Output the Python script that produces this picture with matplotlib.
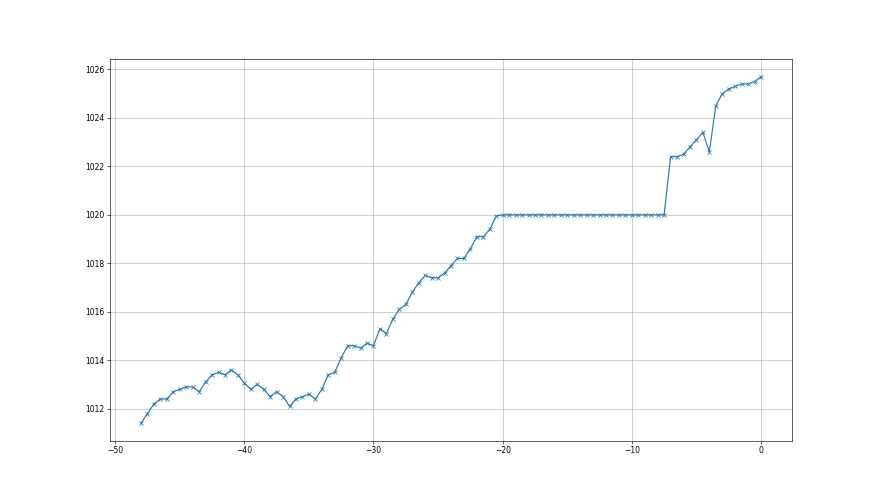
import numpy as np
import matplotlib
matplotlib.use("Agg")
import matplotlib.pyplot as plt

hours = np.arange(-48, 0.01, 0.5)

pressure_early = [1011.4, 1011.8, 1012.2, 1012.4, 1012.4, 1012.7, 1012.8, 1012.9, 1012.9, 1012.7,
                  1013.1, 1013.4, 1013.5, 1013.4, 1013.6, 1013.4, 1013.05, 1012.8, 1013.0, 1012.8,
                  1012.5, 1012.7, 1012.5, 1012.1, 1012.4, 1012.5, 1012.6, 1012.4, 1012.8]
pressure_rise = [1013.4, 1013.5, 1014.1, 1014.6, 1014.6, 1014.5, 1014.7, 1014.6, 1015.3, 1015.1,
                 1015.7, 1016.1, 1016.3, 1016.8, 1017.2, 1017.5, 1017.4, 1017.4, 1017.6, 1017.9,
                 1018.2, 1018.2, 1018.6, 1019.1, 1019.1, 1019.4, 1019.95]
pressure_flat = [1020.0] * 26
pressure_late = [1022.4, 1022.4, 1022.5, 1022.8, 1023.1, 1023.4, 1022.6, 1024.5, 1025.0, 1025.2,
                 1025.3, 1025.4, 1025.4, 1025.5, 1025.7]

pressure = pressure_early + pressure_rise + pressure_flat + pressure_late

fig, ax = plt.subplots(figsize=(16, 9), dpi=55)
ax.plot(hours, pressure, marker="x")
ax.grid(True)
fig.savefig("out.png", dpi=55)
